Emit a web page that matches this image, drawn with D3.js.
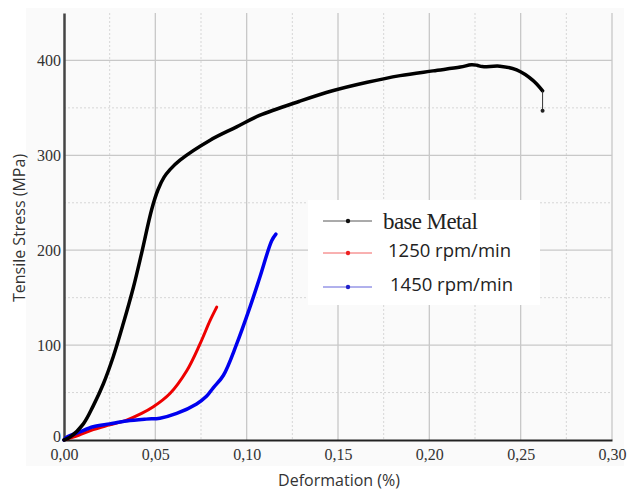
<!DOCTYPE html>
<html>
<head>
<meta charset="utf-8">
<script src="https://cdn.jsdelivr.net/npm/d3@7"></script>
<style>
  body { margin: 0; background: #fff; }
</style>
</head>
<body>
<div id="chart"></div>
<script>
// Deformation (%) vs tensile stress (MPa)
const baseMetal = [
  [0, 0], [0.0033, 3], [0.0106, 17], [0.016, 36], [0.0215, 59], [0.027, 88],
  [0.0325, 123], [0.038, 161], [0.0425, 197], [0.048, 243], [0.0515, 264],
  [0.0548, 277], [0.058, 285], [0.0635, 295], [0.080, 316], [0.0945, 330],
  [0.107, 342], [0.129, 357], [0.147, 368], [0.166, 377], [0.184, 384],
  [0.202, 389], [0.217, 393], [0.223, 395.5], [0.226, 395], [0.229, 393.5],
  [0.2386, 394], [0.2478, 390], [0.2567, 379], [0.262, 368]
];
const baseFracture = [[0.262, 368], [0.262, 347]];

const rpm1250 = [
  [0, 0], [0.008, 5], [0.016, 11], [0.025, 16], [0.0343, 21], [0.0425, 28],
  [0.0489, 35], [0.058, 49], [0.0672, 73], [0.0744, 101], [0.080, 126],
  [0.0836, 140]
];

const rpm1450 = [
  [0, 0], [0.0015, 3], [0.008, 8], [0.016, 14], [0.025, 17], [0.0343, 20],
  [0.045, 22], [0.0525, 23], [0.0617, 28], [0.0726, 38], [0.078, 46],
  [0.0817, 55], [0.0872, 68], [0.0945, 101], [0.1018, 140], [0.1073, 172],
  [0.1137, 210], [0.116, 217]
];

const seriesNames = ["base Metal", "1250 rpm/min", "1450 rpm/min"];
const xTicks = [0, 0.05, 0.10, 0.15, 0.20, 0.25, 0.30];
const yTicks = [0, 100, 200, 300, 400];

const width = 628, height = 491;
const margin = { top: 13, right: 16, bottom: 51, left: 64 };
const plotW = width - margin.left - margin.right;
const plotH = height - margin.top - margin.bottom;

const svg = d3.select("#chart")
  .append("svg")
  .attr("width", width)
  .attr("height", height);

// faint grey panel behind the chart
svg.append("rect")
  .attr("x", 26).attr("y", 8)
  .attr("width", 598).attr("height", 458)
  .attr("fill", "#fafafa");

const g = svg.append("g")
  .attr("transform", `translate(${margin.left},${margin.top})`);

const x = d3.scaleLinear().domain([0, 0.30]).range([0, plotW]);
const y = d3.scaleLinear().domain([0, 450]).range([plotH, 0]);

// minor grid (dotted)
const xMinor = d3.range(0.025, 0.30, 0.05);
const yMinor = d3.range(50, 450, 100);
g.selectAll(".xminor").data(xMinor).enter().append("line")
  .attr("x1", d => x(d)).attr("x2", d => x(d))
  .attr("y1", 0).attr("y2", plotH)
  .attr("stroke", "#d6d6d6").attr("stroke-width", 1)
  .attr("stroke-dasharray", "2,2");
g.selectAll(".yminor").data(yMinor).enter().append("line")
  .attr("x1", 0).attr("x2", plotW)
  .attr("y1", d => y(d)).attr("y2", d => y(d))
  .attr("stroke", "#d6d6d6").attr("stroke-width", 1)
  .attr("stroke-dasharray", "2,2");

// major grid
g.selectAll(".xmajor").data(xTicks.slice(1)).enter().append("line")
  .attr("x1", d => x(d)).attr("x2", d => x(d))
  .attr("y1", 0).attr("y2", plotH)
  .attr("stroke", "#c8c8c8").attr("stroke-width", 1.3);
g.selectAll(".ymajor").data(yTicks.slice(1)).enter().append("line")
  .attr("x1", 0).attr("x2", plotW)
  .attr("y1", d => y(d)).attr("y2", d => y(d))
  .attr("stroke", "#c8c8c8").attr("stroke-width", 1.3);

// axes
const fmt = d => d3.format(".2f")(d).replace(".", ",");
const xAxis = g.append("g")
  .attr("transform", `translate(0,${plotH})`)
  .call(d3.axisBottom(x).tickValues(xTicks).tickFormat(fmt).tickSize(0).tickPadding(9));
const yAxis = g.append("g")
  .call(d3.axisLeft(y).tickValues(yTicks).tickFormat(d3.format("d")).tickSize(0).tickPadding(3));

[xAxis, yAxis].forEach(ax => {
  ax.select(".domain").attr("stroke", "#222").attr("stroke-width", 2);
  ax.selectAll("text")
    .attr("font-family", "'Liberation Serif', 'Times New Roman', serif")
    .attr("font-size", "16px")
    .attr("fill", "#333");
});
yAxis.select(".domain").attr("stroke", "#444").attr("stroke-width", 2.5);
// lift the "0" a little so it only touches "0,00"
yAxis.selectAll(".tick text").filter(d => d === 0).attr("dy", "0.1em");

// axis titles
svg.append("text")
  .attr("text-anchor", "middle")
  .attr("x", margin.left + plotW / 2 + 1)
  .attr("y", 486)
  .attr("font-family", "'Open Sans', sans-serif")
  .attr("font-size", "16px")
  .attr("fill", "#333")
  .text("Deformation (%)");

svg.append("text")
  .attr("text-anchor", "middle")
  .attr("transform", "rotate(-90)")
  .attr("x", -228)
  .attr("y", 25)
  .attr("font-family", "'Open Sans', sans-serif")
  .attr("font-size", "16px")
  .attr("fill", "#333")
  .text("Tensile Stress (MPa)");

// curves
const line = d3.line().x(d => x(d[0])).y(d => y(d[1])).curve(d3.curveCatmullRom.alpha(0.5));

g.append("path").datum(rpm1250)
  .attr("d", line)
  .attr("fill", "none").attr("stroke", "#ee0000")
  .attr("stroke-width", 3).attr("stroke-linecap", "round");

g.append("path").datum(rpm1450)
  .attr("d", line)
  .attr("fill", "none").attr("stroke", "#0000ee")
  .attr("stroke-width", 3.5).attr("stroke-linecap", "round");

g.append("path").datum(baseMetal)
  .attr("d", line)
  .attr("fill", "none").attr("stroke", "#000")
  .attr("stroke-width", 3.5).attr("stroke-linecap", "round");

// fracture drop of the base metal
g.append("path").datum(baseFracture)
  .attr("d", d3.line().x(d => x(d[0])).y(d => y(d[1])))
  .attr("stroke", "#333").attr("stroke-width", 1);
g.append("circle")
  .attr("cx", x(baseFracture[1][0])).attr("cy", y(baseFracture[1][1]))
  .attr("r", 2).attr("fill", "#222");

// legend
const legendColors = ["#111", "#ee2222", "#2222cc"];
const legend = svg.append("g").attr("transform", "translate(308,200)");
legend.append("rect")
  .attr("width", 232).attr("height", 105)
  .attr("fill", "#fff");

const rowY = [21, 53, 87];
const textX = [75, 80, 82];
const textY = [29, 57, 91];
seriesNames.forEach((name, i) => {
  legend.append("line")
    .attr("x1", 15).attr("x2", 64)
    .attr("y1", rowY[i]).attr("y2", rowY[i])
    .attr("stroke", legendColors[i]).attr("stroke-width", 1).attr("opacity", 0.7);
  legend.append("circle")
    .attr("cx", 40).attr("cy", rowY[i]).attr("r", 2.2)
    .attr("fill", legendColors[i]);
  legend.append("text")
    .attr("x", textX[i]).attr("y", textY[i])
    .attr("font-family", i === 0 ? "'Liberation Serif', 'Times New Roman', serif" : "'Open Sans', sans-serif")
    .attr("font-size", i === 0 ? "23px" : "18.5px")
    .attr("letter-spacing", i === 0 ? "-0.6px" : "0px")
    .attr("fill", "#222")
    .text(name);
});
</script>
</body>
</html>
